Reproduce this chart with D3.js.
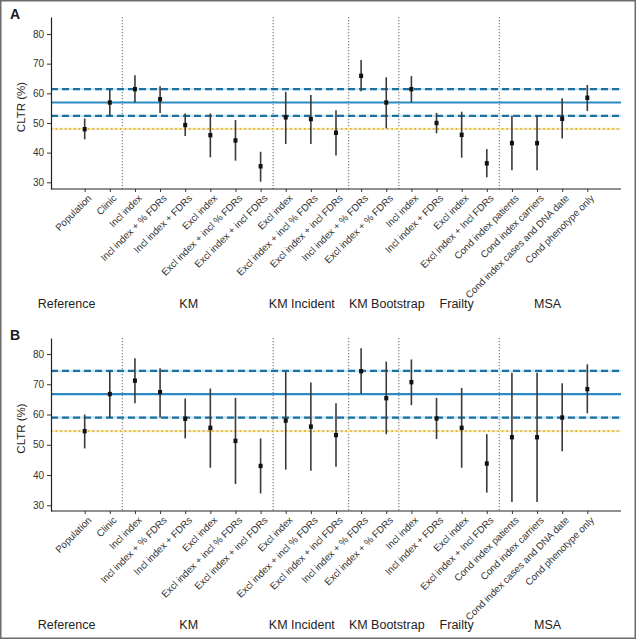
<!DOCTYPE html>
<html>
<head>
<meta charset="utf-8">
<script src="https://cdn.jsdelivr.net/npm/d3@7"></script>
<style>
  html, body { margin: 0; padding: 0; background: #fff; }
  svg { display: block; font-family: "Liberation Sans", Arial, sans-serif; }
</style>
</head>
<body>
<svg id="chart" width="637" height="640"></svg>
<script>
// ---------- data ----------
const categories = [
  "Population", "Clinic",
  "Incl index", "Incl index + % FDRs", "Incl index + FDRs", "Excl index", "Excl index + incl % FDRs", "Excl index + incl FDRs",
  "Excl index", "Excl index + incl % FDRs", "Excl index + incl FDRs",
  "Incl index + % FDRs", "Excl index + % FDRs",
  "Incl index", "Incl index + FDRs", "Excl index", "Excl index + Incl FDRs",
  "Cond index patients", "Cond index carriers", "Cond index cases and DNA date", "Cond phenotype only"
];
const groups = ["Reference", "KM", "KM Incident", "KM Bootstrap", "Frailty", "MSA"];
const groupSizes = [2, 6, 3, 2, 4, 4];
const yTicks = [30, 40, 50, 60, 70, 80];

// Panel A
const estA  = [47.9, 56.9, 61.4, 58.0, 49.3, 45.9, 44.1, 35.4, 51.9, 51.3, 46.7, 65.9, 56.9, 61.4, 50.0, 46.0, 36.4, 43.2, 43.2, 51.4, 58.5];
const lowA  = [44.5, 52.4, 56.9, 53.4, 45.6, 38.4, 37.3, 30.2, 42.9, 42.9, 39.0, 60.7, 48.2, 56.9, 46.5, 38.3, 31.7, 34.1, 34.1, 44.8, 54.0];
const highA = [51.5, 61.3, 66.1, 62.4, 53.2, 53.2, 51.0, 40.3, 60.5, 59.4, 54.3, 71.2, 65.4, 65.8, 53.4, 53.8, 41.2, 52.4, 52.4, 58.3, 62.8];
const clinicA = [56.9, 52.4, 61.4];   // estimate, lower, upper
const populationA = 48.0;

// Panel B
const estB  = [54.5, 66.75, 71.2, 67.4, 58.6, 55.6, 51.3, 43.0, 58.0, 56.0, 53.2, 74.3, 65.4, 70.7, 58.7, 55.6, 43.8, 52.5, 52.5, 59.0, 68.4];
const lowB  = [48.8, 59.0, 63.7, 59.0, 52.1, 42.4, 37.0, 33.9, 41.8, 41.4, 42.7, 66.75, 53.5, 63.1, 51.9, 42.4, 34.2, 31.1, 31.1, 47.9, 60.4];
const highB = [60.0, 74.4, 78.6, 75.3, 65.3, 68.6, 65.5, 52.1, 74.1, 70.6, 63.7, 81.9, 77.5, 78.2, 65.5, 68.8, 53.5, 73.8, 73.8, 70.3, 76.6];
const clinicB = [66.75, 59.0, 74.4];
const populationB = 54.5;

// ---------- layout ----------
const groupLabelPos = [-0.72, 4.14, 8.64, 12.02, 14.80, 18.42]; // in category-index units
const panels = [
  { letter: "A", top: 0,   y30: 182.3, y80: 34,  axTop: 17, axBot: 189, est: estA, low: lowA, high: highA, clinic: clinicA, pop: populationA },
  { letter: "B", top: 321, y30: 184.3, y80: 33,  axTop: 17, axBot: 190, est: estB, low: lowB, high: highB, clinic: clinicB, pop: populationB }
];

const svg = d3.select("#chart");

// outer frame
svg.append("rect")
  .attr("x", 0.75).attr("y", 0.75).attr("width", 634.5).attr("height", 637.5)
  .attr("fill", "none").attr("stroke", "#6b6b6b").attr("stroke-width", 1.5);

const xLeft = 51, xRight = 621;
const idx = d3.range(categories.length);
const x = d3.scalePoint().domain(idx).range([xLeft, xRight]).padding(1.34);
const step = x.step();
const xPos = v => x(0) + v * step;

// separators between groups
const sepIdx = [];
let acc = 0;
groupSizes.forEach((g, i) => { acc += g; if (i < groupSizes.length - 1) sepIdx.push(acc - 0.5); });

panels.forEach(p => {
  const g = svg.append("g").attr("transform", `translate(0,${p.top})`);
  const base = d3.scaleLinear().domain([30, 80]).range([p.y30, p.y80]);
  const y = d3.scaleLinear().domain([base.invert(p.axBot), base.invert(p.axTop)]).range([p.axBot, p.axTop]);

  // panel letter
  g.append("text").attr("x", 10).attr("y", 19)
    .attr("font-size", 14).attr("font-weight", "bold").attr("fill", "#1a1a1a")
    .text(p.letter);

  // group separators
  g.selectAll(".sep").data(sepIdx).join("line")
    .attr("x1", d => xPos(d)).attr("x2", d => xPos(d))
    .attr("y1", p.axTop).attr("y2", p.axBot)
    .attr("stroke", "#8a8a8a").attr("stroke-width", 1.3).attr("stroke-dasharray", "1.2,1.8");

  // reference lines
  const hl = (v, color, w, dash) => g.append("line")
    .attr("x1", xLeft).attr("x2", xRight).attr("y1", y(v)).attr("y2", y(v))
    .attr("stroke", color).attr("stroke-width", w).attr("stroke-dasharray", dash || null);
  hl(p.pop, "#f7eabb", 2.2);
  hl(p.pop, "#e2ad2e", 1.6, "1.6,3");
  [p.clinic[1], p.clinic[2]].forEach(v => {
    hl(v, "#c6e6f5", 2.4);
    hl(v, "#1f6f9f", 2.2, "7,4");
  });
  hl(p.clinic[0], "#2a8bc4", 2.2);

  // axes
  const yAxis = d3.axisLeft(y).tickValues(yTicks).tickSize(4).tickSizeOuter(0).tickPadding(3);
  const ya = g.append("g").attr("transform", `translate(${xLeft},0)`).call(yAxis);
  ya.select(".domain").attr("stroke", "#222").attr("stroke-width", 1.2);
  ya.selectAll(".tick line").attr("stroke", "#333");
  ya.selectAll(".tick text").attr("font-size", 10).attr("fill", "#333").attr("font-family", "Liberation Sans, Arial, sans-serif");

  const xAxis = d3.axisBottom(x).tickFormat(i => categories[i]).tickSize(3).tickSizeOuter(0);
  const xa = g.append("g").attr("transform", `translate(0,${p.axBot})`).call(xAxis);
  xa.select(".domain").attr("stroke", "#222").attr("stroke-width", 1.2)
    .attr("d", `M${xLeft},0H${xRight}`);
  xa.selectAll(".tick line").attr("stroke", "#333");
  xa.selectAll(".tick text")
    .attr("font-size", 9.8).attr("fill", "#333").attr("font-family", "Liberation Sans, Arial, sans-serif")
    .attr("text-anchor", "end")
    .attr("transform", "rotate(-45)")
    .attr("dx", "-0.2em").attr("dy", "0.6em");

  // y title
  g.append("text")
    .attr("transform", `translate(25,${(p.axTop + p.axBot) / 2 + 4}) rotate(-90)`)
    .attr("text-anchor", "middle").attr("font-size", 11.5).attr("fill", "#222")
    .text("CLTR (%)");

  // group labels
  g.selectAll(".glab").data(groups).join("text")
    .attr("x", (d, i) => xPos(groupLabelPos[i]))
    .attr("y", 307.5)
    .attr("text-anchor", "middle").attr("font-size", 12.5).attr("fill", "#222")
    .text(d => d);

  // error bars
  g.selectAll(".err").data(idx).join("line")
    .attr("x1", i => x(i)).attr("x2", i => x(i))
    .attr("y1", i => y(p.low[i])).attr("y2", i => y(p.high[i]))
    .attr("stroke", "#3a3a3a").attr("stroke-width", 1.6);

  // points
  g.selectAll(".pt").data(idx).join("rect")
    .attr("x", i => x(i) - 2).attr("y", i => y(p.est[i]) - 2.2)
    .attr("width", 4).attr("height", 4.4)
    .attr("fill", "#111");
});
</script>
</body>
</html>
